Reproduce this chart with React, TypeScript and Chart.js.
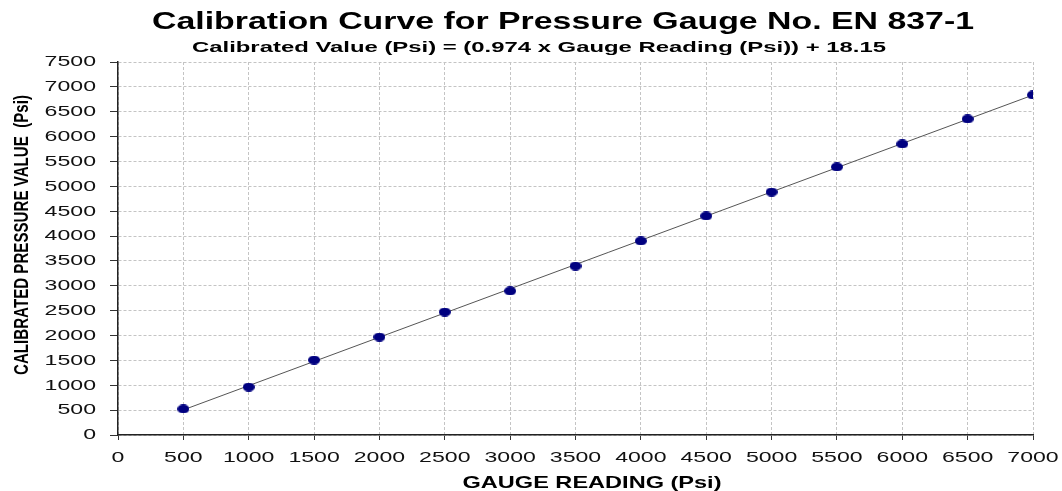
import React, { useEffect, useRef } from 'react';
import { Chart, registerables } from 'chart.js';

Chart.register(...registerables);

// ---- data ----
const gaugeReadings = [500, 1000, 1500, 2000, 2500, 3000, 3500, 4000, 4500, 5000, 5500, 6000, 6500, 7000];
const calibratedValues = [523, 965, 1508, 1970, 2473, 2896, 3398, 3901, 4404, 4886, 5389, 5852, 6354, 6837];
const trendX = [500, 7000];
const trendY = [505, 6836];
const xTickLabels = [0, 500, 1000, 1500, 2000, 2500, 3000, 3500, 4000, 4500, 5000, 5500, 6000, 6500, 7000];
const yTickLabels = [0, 500, 1000, 1500, 2000, 2500, 3000, 3500, 4000, 4500, 5000, 5500, 6000, 6500, 7000, 7500];
const titleText = 'Calibration Curve for Pressure Gauge No. EN 837-1';
const subtitleText = 'Calibrated Value (Psi) = (0.974 x Gauge Reading (Psi)) + 18.15';
const xAxisTitle = 'GAUGE READING (Psi)';
const yAxisTitle = 'CALIBRATED PRESSURE VALUE  (Psi)';

function drawFit(ctx: CanvasRenderingContext2D, text: string, cx: number, cy: number, font: string, width: number, rotate = false) {
  ctx.save();
  ctx.font = font;
  const w = ctx.measureText(text).width;
  ctx.translate(cx, cy);
  if (rotate) ctx.rotate(-Math.PI / 2);
  ctx.scale(width / w, 1);
  ctx.textAlign = 'center';
  ctx.textBaseline = 'alphabetic';
  ctx.fillStyle = '#000';
  ctx.fillText(text, 0, 0);
  ctx.restore();
}

function drawStretched(ctx: CanvasRenderingContext2D, text: string, x: number, y: number, font: string, sx: number, align: CanvasTextAlign, baseline: CanvasTextBaseline) {
  ctx.save();
  ctx.font = font;
  ctx.translate(x, y);
  ctx.scale(sx, 1);
  ctx.textAlign = align;
  ctx.textBaseline = baseline;
  ctx.fillStyle = '#111';
  ctx.fillText(text, 0, 0);
  ctx.restore();
}

const textPlugin = {
  id: 'textPlugin',
  afterDraw(chart: any) {
    const ctx: CanvasRenderingContext2D = chart.ctx;
    const xs = chart.scales.x;
    const ys = chart.scales.y;
    const tickFont = "14px 'Liberation Sans', Arial, sans-serif";
    yTickLabels.forEach((v) => {
      drawStretched(ctx, String(v), 96, ys.getPixelForValue(v) + 0.5, tickFont, 1.65, 'right', 'middle');
    });
    xTickLabels.forEach((v) => {
      drawStretched(ctx, String(v), xs.getPixelForValue(v), 462, tickFont, 1.65, 'center', 'alphabetic');
    });
    drawFit(ctx, titleText, 563, 29, "bold 24px 'Liberation Sans', Arial, sans-serif", 822);
    drawFit(ctx, subtitleText, 539, 52, "bold 15px 'Liberation Sans', Arial, sans-serif", 694);
    drawFit(ctx, xAxisTitle, 592, 488, "bold 17px 'Liberation Sans', Arial, sans-serif", 259);
    drawFit(ctx, yAxisTitle, 28, 235, "bold 20px 'Liberation Sans Narrow', 'Liberation Sans', Arial, sans-serif", 280, true);
  },
};

export default function App() {
  const ref = useRef<HTMLCanvasElement | null>(null);

  useEffect(() => {
    if (!ref.current) return;
    const pt = document.createElement('canvas');
    pt.width = 12;
    pt.height = 9;
    const pc = pt.getContext('2d')!;
    pc.fillStyle = '#000080';
    pc.beginPath();
    pc.ellipse(6, 4.5, 6, 4.5, 0, 0, Math.PI * 2);
    pc.fill();

    const chart = new Chart(ref.current, {
      type: 'scatter',
      data: {
        datasets: [
          {
            label: 'Calibration',
            data: gaugeReadings.map((x, i) => ({ x, y: calibratedValues[i] })),
            pointStyle: pt as any,
            pointRadius: 6,
            backgroundColor: '#000080',
            borderColor: '#000080',
            showLine: false,
          },
          {
            label: 'Trend',
            data: trendX.map((x, i) => ({ x, y: trendY[i] })),
            showLine: true,
            pointRadius: 0,
            borderColor: '#555555',
            borderWidth: 1,
            fill: false,
          },
        ],
      },
      options: {
        animation: false,
        responsive: true,
        maintainAspectRatio: false,
        layout: { padding: { top: 62, right: 29, left: 0, bottom: 0 } },
        plugins: { legend: { display: false }, title: { display: false }, tooltip: { enabled: false } },
        scales: {
          x: {
            type: 'linear',
            min: xTickLabels[0],
            max: xTickLabels[xTickLabels.length - 1],
            afterBuildTicks: (s: any) => { s.ticks = xTickLabels.map((v) => ({ value: v })); },
            afterFit: (s: any) => { s.height = 56; },
            ticks: { display: false },
            grid: { color: '#c4c4c4', lineWidth: 1, tickColor: '#333', tickLength: 5, drawTicks: true },
            border: { display: true, color: '#222', width: 1.5, dash: [3, 2] },
          },
          y: {
            type: 'linear',
            min: yTickLabels[0],
            max: yTickLabels[yTickLabels.length - 1],
            afterBuildTicks: (s: any) => { s.ticks = yTickLabels.map((v) => ({ value: v })); },
            afterFit: (s: any) => { s.width = 118; },
            ticks: { display: false },
            grid: { color: '#c4c4c4', lineWidth: 1, tickColor: '#333', tickLength: 8, drawTicks: true },
            border: { display: true, color: '#222', width: 1.5, dash: [3, 2] },
          },
        },
      },
      plugins: [textPlugin],
    });
    return () => chart.destroy();
  }, []);

  return (
    <div style={{ position: 'fixed', left: 0, top: 0, width: 1062, height: 491, background: '#fff' }}>
      <canvas ref={ref} />
    </div>
  );
}
